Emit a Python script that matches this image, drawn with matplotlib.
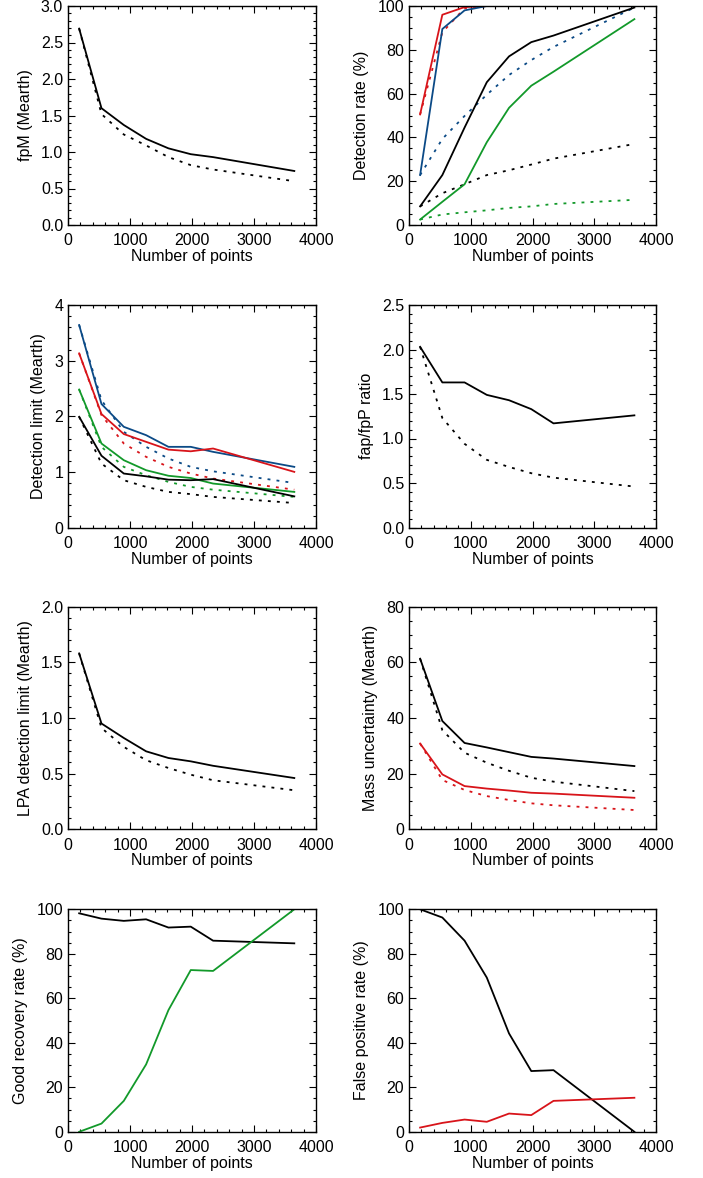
import numpy as np
import matplotlib.pyplot as plt
from matplotlib.ticker import MultipleLocator, AutoMinorLocator, FormatStrFormatter

plt.rcParams.update({"font.family": ["Liberation Sans", "DejaVu Sans"], "font.size": 11.5})

# number of points in each simulated time series
npts = [180, 540, 900, 1260, 1620, 1980, 2340, 3650]

# fpM (Mearth)
fpm_sim = [2.69, 1.60, 1.37, 1.18, 1.05, 0.97, 0.93, 0.74]
fpm_th = [2.69, 1.52, 1.24, 1.09, 0.93, 0.82, 0.76, 0.60]

# detection rate (%)
det_red = [50.5, 96, 99.5, 100, 100, 100, 100, 100]
det_red_th = [50.5, 88, 99, 100, 100, 100, 100, 100]
det_blue = [22.8, 89.5, 98, 100, 100, 100, 100, 100]
det_blue_th = [22.8, 39.3, 49.8, 59.5, 68.5, 75.3, 81.3, 99.3]
det_black = [8.5, 22.8, 44.5, 65.2, 77, 83.5, 86.5, 99.3]
det_black_th = [8.5, 14.5, 18.6, 22.8, 25, 27.6, 30.3, 37]
det_green = [2.5, 10.6, 18.6, 37.8, 53.5, 63.6, 70, 94]
det_green_th = [2.5, 4.8, 5.8, 6.7, 7.8, 8.5, 9.6, 11.5]

# detection limit (Mearth)
lim_blue = [3.64, 2.22, 1.81, 1.66, 1.45, 1.45, 1.36, 1.09]
lim_blue_th = [3.64, 2.29, 1.72, 1.45, 1.24, 1.09, 1.01, 0.80]
lim_red = [3.13, 2.04, 1.68, 1.54, 1.40, 1.37, 1.42, 1.00]
lim_red_th = [3.13, 2.02, 1.51, 1.27, 1.09, 0.97, 0.88, 0.68]
lim_green = [2.48, 1.51, 1.21, 1.03, 0.93, 0.89, 0.79, 0.64]
lim_green_th = [2.48, 1.45, 1.09, 0.94, 0.82, 0.73, 0.68, 0.55]
lim_black = [1.99, 1.29, 0.97, 0.92, 0.86, 0.85, 0.87, 0.56]
lim_black_th = [1.99, 1.15, 0.85, 0.73, 0.64, 0.60, 0.55, 0.44]

# fap/fpP ratio
ratio_sim = [2.03, 1.63, 1.63, 1.49, 1.43, 1.33, 1.17, 1.26]
ratio_th = [2.03, 1.23, 0.94, 0.76, 0.68, 0.61, 0.56, 0.46]

# LPA detection limit (Mearth)
lpa_sim = [1.58, 0.95, 0.82, 0.70, 0.64, 0.61, 0.57, 0.46]
lpa_th = [1.58, 0.91, 0.74, 0.62, 0.55, 0.49, 0.44, 0.35]

# mass uncertainty (Mearth)
mass_black = [61.3, 38.9, 31.0, 29.4, 27.7, 26.0, 25.4, 22.7]
mass_black_th = [61.3, 35.6, 27.5, 23.9, 21.0, 18.5, 17.1, 13.7]
mass_red = [30.8, 19.7, 15.5, 14.6, 13.9, 13.1, 12.8, 11.3]
mass_red_th = [30.8, 17.7, 14.1, 11.9, 10.5, 9.3, 8.6, 6.9]

# good recovery rate (%)
good_black = [98.2, 95.8, 94.8, 95.5, 91.8, 92.2, 85.9, 84.7]
good_green = [0, 3.7, 13.9, 30.3, 54.7, 72.7, 72.3, 100]

# false positive rate (%)
fp_black = [100, 96.3, 85.9, 69.3, 44.2, 27.3, 27.7, 0]
fp_red = [1.9, 4.0, 5.5, 4.5, 8.2, 7.5, 13.9, 15.3]

RED = "#d8141a"
BLUE = "#0b4a86"
GREEN = "#12992a"
BLACK = "black"
DOT = (0, (1.6, 3.4))
LW = 1.3

W, H = 703, 1178
fig = plt.figure(figsize=(W / 100, H / 100), dpi=100)

col_x = [68, 409]
col_w = [248, 247]
row_top = [6, 305, 606.7, 909.3]
row_h = [219, 222.5, 222.5, 222.5]


def make_ax(r, c):
    x0 = col_x[c] / W
    y0 = 1 - (row_top[r] + row_h[r]) / H
    return fig.add_axes([x0, y0, col_w[c] / W, row_h[r] / H])


def style(ax, ylabel, ymax, ystep, fmt):
    ax.set_xlim(0, 4000)
    ax.set_ylim(0, ymax)
    ax.xaxis.set_major_locator(MultipleLocator(1000))
    ax.yaxis.set_major_locator(MultipleLocator(ystep))
    ax.xaxis.set_minor_locator(AutoMinorLocator())
    ax.yaxis.set_minor_locator(AutoMinorLocator())
    ax.yaxis.set_major_formatter(FormatStrFormatter(fmt))
    ax.tick_params(which="both", direction="in", top=True, right=True, width=0.8)
    ax.tick_params(which="major", length=5)
    ax.tick_params(which="minor", length=2.5)
    ax.tick_params(axis="x", which="major", pad=6)
    ax.tick_params(axis="y", which="major", pad=3.5)
    for s in ax.spines.values():
        s.set_linewidth(1.0)
    ax.set_xlabel("Number of points", labelpad=0.5)
    ax.set_ylabel(ylabel, labelpad=6)


# panel 1
ax = make_ax(0, 0)
ax.plot(npts, fpm_sim, color=BLACK, lw=LW)
ax.plot(npts, fpm_th, color=BLACK, lw=LW, ls=DOT)
style(ax, "fpM (Mearth)", 3.0, 0.5, "%.1f")

# panel 2
ax = make_ax(0, 1)
for sim, th, col in [(det_red, det_red_th, RED), (det_blue, det_blue_th, BLUE),
                     (det_black, det_black_th, BLACK), (det_green, det_green_th, GREEN)]:
    ax.plot(npts, sim, color=col, lw=LW)
    ax.plot(npts, th, color=col, lw=LW, ls=DOT)
style(ax, "Detection rate (%)", 100, 20, "%d")

# panel 3
ax = make_ax(1, 0)
for sim, th, col in [(lim_blue, lim_blue_th, BLUE), (lim_red, lim_red_th, RED),
                     (lim_green, lim_green_th, GREEN), (lim_black, lim_black_th, BLACK)]:
    ax.plot(npts, sim, color=col, lw=LW)
    ax.plot(npts, th, color=col, lw=LW, ls=DOT)
style(ax, "Detection limit (Mearth)", 4, 1, "%d")

# panel 4
ax = make_ax(1, 1)
ax.plot(npts, ratio_sim, color=BLACK, lw=LW)
ax.plot(npts, ratio_th, color=BLACK, lw=LW, ls=DOT)
style(ax, "fap/fpP ratio", 2.5, 0.5, "%.1f")

# panel 5
ax = make_ax(2, 0)
ax.plot(npts, lpa_sim, color=BLACK, lw=LW)
ax.plot(npts, lpa_th, color=BLACK, lw=LW, ls=DOT)
style(ax, "LPA detection limit (Mearth)", 2.0, 0.5, "%.1f")

# panel 6
ax = make_ax(2, 1)
ax.plot(npts, mass_black, color=BLACK, lw=LW)
ax.plot(npts, mass_black_th, color=BLACK, lw=LW, ls=DOT)
ax.plot(npts, mass_red, color=RED, lw=LW)
ax.plot(npts, mass_red_th, color=RED, lw=LW, ls=DOT)
style(ax, "Mass uncertainty (Mearth)", 80, 20, "%d")

# panel 7
ax = make_ax(3, 0)
ax.plot(npts, good_black, color=BLACK, lw=LW)
ax.plot(npts, good_green, color=GREEN, lw=LW)
style(ax, "Good recovery rate (%)", 100, 20, "%d")

# panel 8
ax = make_ax(3, 1)
ax.plot(npts, fp_black, color=BLACK, lw=LW)
ax.plot(npts, fp_red, color=RED, lw=LW)
style(ax, "False positive rate (%)", 100, 20, "%d")

fig.savefig("out.png", dpi=100)
